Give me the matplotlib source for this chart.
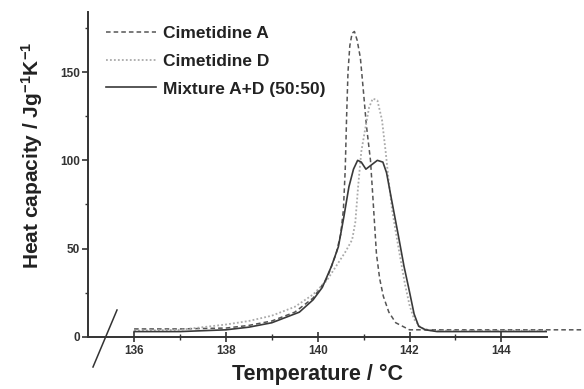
import numpy as np
import matplotlib
matplotlib.use("Agg")
import matplotlib.pyplot as plt
from matplotlib.lines import Line2D

plt.rcParams['font.family'] = ['Liberation Sans', 'DejaVu Sans']
plt.rcParams['mathtext.default'] = 'regular'

# ---- data (T in degC, Cp in J/g/K)
t_a = [136.0, 137.0, 138.0, 138.5, 139.0, 139.5, 139.9, 140.2, 140.4, 140.5,
       140.56, 140.6, 140.63, 140.66, 140.7, 140.75, 140.8, 140.86, 140.93,
       141.0, 141.06, 141.15, 141.2, 141.28, 141.35, 141.43, 141.55, 141.7,
       142.0, 142.5, 143.5, 144.5, 145.8]
cp_a = [4.5, 4.5, 5, 6.5, 9, 14, 22, 33, 47, 58,
        72, 95, 125, 150, 165, 172, 173, 168, 158,
        138, 120, 100, 80, 47, 33, 23, 14, 8,
        4, 4, 4, 4, 4]

t_d = [136.0, 137.0, 138.0, 138.5, 139.0, 139.5, 139.9, 140.2, 140.4, 140.6,
       140.75, 140.82, 140.88, 140.95, 141.05, 141.12, 141.2, 141.3, 141.4,
       141.48, 141.54, 141.62, 141.75, 141.9, 142.0, 142.1, 142.25, 142.5,
       143.5, 145.0]
cp_d = [3.5, 4, 7, 9, 12, 17, 24, 32, 40, 48,
        55, 65, 85, 105, 120, 130, 135, 134, 123,
        105, 90, 72, 52, 30, 18, 10, 5, 3.5,
        3.5, 3.5]

t_mix = [136.0, 137.0, 138.0, 138.5, 139.0, 139.3, 139.6, 139.9, 140.1, 140.3,
         140.45, 140.57, 140.68, 140.78, 140.87, 140.95, 141.05, 141.15, 141.3,
         141.42, 141.5, 141.6, 141.76, 141.88, 141.98, 142.1, 142.2, 142.35,
         142.6, 143.5, 145.0]
cp_mix = [3, 3, 4, 5.5, 8, 11, 14, 21, 28, 40,
          51, 68, 85, 95, 100, 99, 95, 97, 100,
          99, 93, 79, 57, 40, 28, 13, 6, 4,
          3, 3, 3]

labels = ['Cimetidine A', 'Cimetidine D', 'Mixture A+D (50:50)']

fig = plt.figure(figsize=(5.84, 3.89), dpi=100)
ax = fig.add_axes([0.151, 0.134, 0.786, 0.835])

ax.plot(t_a, cp_a, color='#555555', lw=1.1, ls=(0, (3, 2)), label=labels[0], clip_on=False)
ax.plot(t_d, cp_d, color='#aaaaaa', lw=1.3, ls=(0, (1, 1.2)), label=labels[1])
ax.plot(t_mix, cp_mix, color='#3a3a3a', lw=1.2, ls='-', label=labels[2])

ax.set_xlim(135, 145)
ax.set_ylim(0, 184)
ax.set_xticks([136, 138, 140, 142, 144])
ax.set_xticks([137, 139, 141, 143], minor=True)
ax.set_yticks([0, 50, 100, 150])
ax.set_yticks([25, 75, 125, 175], minor=True)

for s in ['top', 'right']:
    ax.spines[s].set_visible(False)
for s in ['left', 'bottom']:
    ax.spines[s].set_linewidth(1.4)
    ax.spines[s].set_color('#333333')

ax.tick_params(axis='x', which='major', direction='inout', length=7, width=1.2,
               labelsize=8.5, pad=2, colors='#333333')
ax.tick_params(axis='x', which='minor', direction='inout', length=4, width=1.0, colors='#333333')
ax.tick_params(axis='y', which='major', direction='out', length=4, width=1.2,
               labelsize=8.5, pad=2, colors='#333333')
ax.tick_params(axis='y', which='minor', direction='out', length=2.5, width=1.0, colors='#333333')
for lab in ax.get_xticklabels() + ax.get_yticklabels():
    lab.set_fontweight('bold')

ax.set_xlabel('Temperature / °C', fontsize=15.5, fontweight='bold', labelpad=5, color='#222222')
ax.set_ylabel('Heat capacity / Jg$^{-1}$K$^{-1}$', fontsize=15, fontweight='bold',
              color='#222222')
ax.yaxis.set_label_coords(-0.095, 0.56)

leg = ax.legend(loc='upper left', bbox_to_anchor=(0.005, 1.005), frameon=False,
                handlelength=2.9, handletextpad=0.4, labelspacing=0.72,
                prop={'size': 12.5, 'weight': 'bold'})
for txt in leg.get_texts():
    txt.set_color('#222222')

# axis break mark below the origin
fig.add_artist(Line2D([93 / 584, 117 / 584], [1 - 367 / 389, 1 - 310 / 389],
                      color='#333333', lw=1.1))

fig.savefig('out.png', dpi=100)
